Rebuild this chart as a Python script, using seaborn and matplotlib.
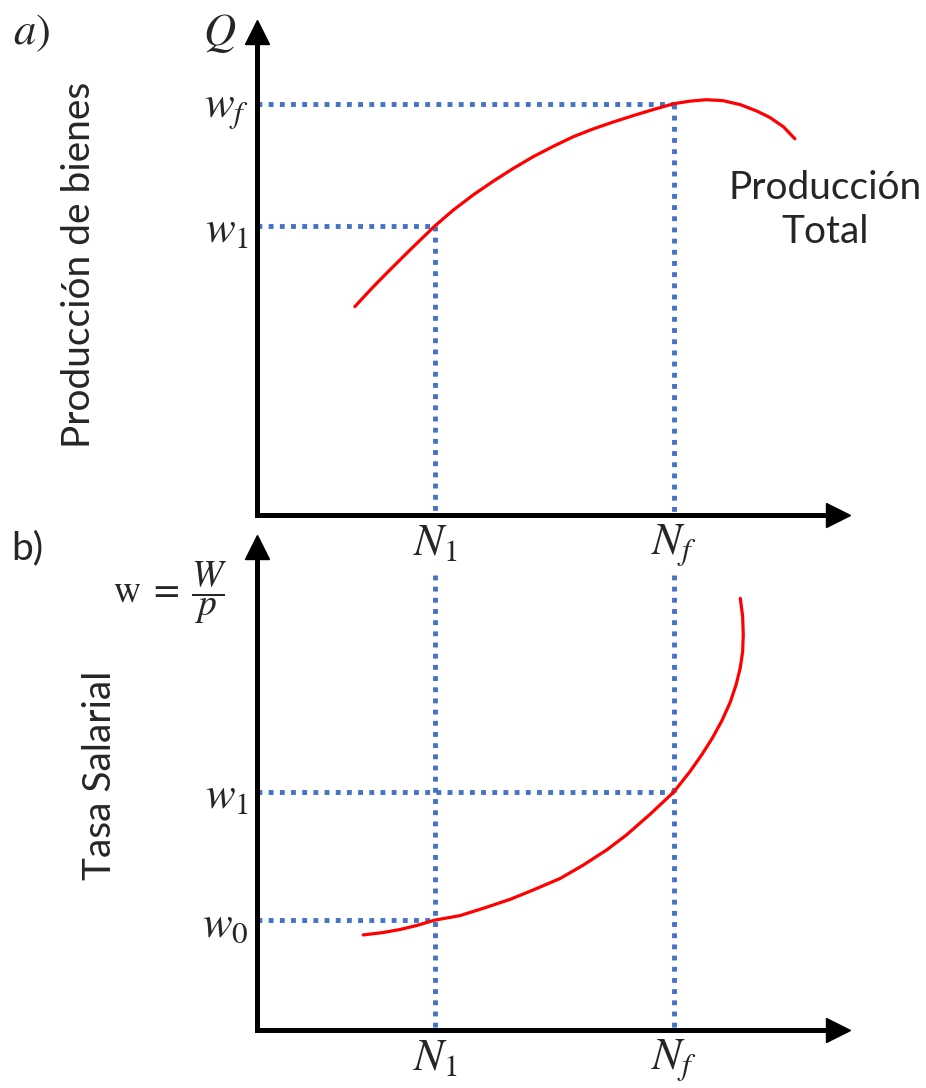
import numpy as np
import matplotlib
matplotlib.use('Agg')
import matplotlib.pyplot as plt
import seaborn as sns

# ── Data ──────────────────────────────────────────────────────
N1, Nf = 3.00, 7.03

# panel a) production function
q_wf, q_w1 = 8.31, 5.84
prod_n = [1.65, 1.96, 2.24, 2.61, 3.00, 3.31, 3.65, 3.98, 4.32, 4.66, 5.00,
          5.33, 5.67, 6.01, 6.35, 6.68, 7.03, 7.30, 7.58, 7.86, 8.15, 8.43,
          8.65, 8.88, 9.07]
prod_q = [4.21, 4.61, 4.95, 5.39, 5.84, 6.16, 6.47, 6.74, 7.00, 7.24, 7.45,
          7.64, 7.80, 7.94, 8.07, 8.19, 8.31, 8.36, 8.39, 8.37, 8.29, 8.16,
          8.03, 7.84, 7.60]

# panel b) wage curve
w_w1, w_w0 = 4.81, 2.22
wage_n = [1.79, 2.13, 2.41, 2.69, 3.00, 3.42, 3.82, 4.27, 4.66, 5.11, 5.50,
          5.90, 6.23, 6.63, 7.03, 7.30, 7.50, 7.68, 7.84, 7.98, 8.08, 8.15,
          8.19, 8.20, 8.19, 8.15]
wage_w = [1.92, 1.97, 2.03, 2.11, 2.22, 2.31, 2.46, 2.64, 2.83, 3.06, 3.33,
          3.64, 3.94, 4.36, 4.81, 5.22, 5.56, 5.90, 6.25, 6.62, 6.98, 7.32,
          7.65, 7.98, 8.35, 8.72]

top_yticks = [q_w1, q_wf]
top_ylabels = [r'$w_1$', r'$w_f$']
bot_yticks = [w_w0, w_w1]
bot_ylabels = [r'$w_0$', r'$w_1$']
xticks = [N1, Nf]
xlabels = [r'$N_1$', r'$N_f$']

# ── Style ─────────────────────────────────────────────────────
sns.set_style('white')
plt.rcParams['font.family'] = ['Lato', 'DejaVu Sans']
plt.rcParams['mathtext.fontset'] = 'stix'

RED = '#FF0000'
BLUE = '#4472C4'
DOT = dict(color=BLUE, lw=3.5, linestyle=(0, (1, 1.3)), dash_capstyle='butt')
MATH = 32
TXT = 28

fig = plt.figure(figsize=(9.26, 10.88), dpi=100)
ax_a = fig.add_axes([257/926, 1 - 515/1088, 593/926, 495/1088])
ax_b = fig.add_axes([257/926, 1 - 1030/1088, 593/926, 495/1088])
ax_b.set_facecolor('none')
ax_a.set_facecolor('none')


def style_axes(ax):
    ax.set_xlim(0, 10)
    ax.set_ylim(0, 10)
    for s in ['top', 'right']:
        ax.spines[s].set_visible(False)
    for s in ['left', 'bottom']:
        ax.spines[s].set_linewidth(3.6)
        ax.spines[s].set_color('black')
        ax.spines[s].set_capstyle('projecting')
    ax.spines['left'].set_bounds(0, 9.6)
    ax.spines['bottom'].set_bounds(0, 9.65)
    ax.plot(0, 9.75, '^', color='black', ms=17, clip_on=False)
    ax.plot(9.8, 0, '>', color='black', ms=17, clip_on=False)
    ax.tick_params(length=0, labelsize=MATH)
    ax.tick_params(axis='x', pad=5)
    ax.tick_params(axis='y', pad=6)
    ax.set_xticks(xticks, xlabels)


# ── a) Producción total ───────────────────────────────────────
style_axes(ax_a)
ax_a.plot([0, Nf], [q_wf, q_wf], **DOT)
ax_a.plot([Nf, Nf], [q_wf, 0], **DOT)
ax_a.plot([0, N1], [q_w1, q_w1], **DOT)
ax_a.plot([N1, N1], [q_w1, 0], **DOT)
sns.lineplot(x=prod_n, y=prod_q, sort=False, estimator=None, color=RED,
             lw=2.3, ax=ax_a)
ax_a.set_yticks(top_yticks, top_ylabels)
ax_a.text(-0.35, 9.72, r'$Q$', fontsize=MATH, ha='right', va='center')
ax_a.text(9.58, 6.16, 'Producción\nTotal', fontsize=TXT, ha='center',
          va='center', linespacing=1.3)
ax_a.set_ylabel('Producción de bienes', fontsize=TXT)
ax_a.yaxis.set_label_coords(-0.27, 0.505)

# ── b) Tasa salarial ──────────────────────────────────────────
style_axes(ax_b)
ax_b.plot([Nf, Nf], [9.2, 0], **DOT)
ax_b.plot([N1, N1], [9.2, 0], **DOT)
ax_b.plot([0, Nf], [w_w1, w_w1], **DOT)
ax_b.plot([0, N1], [w_w0, w_w0], **DOT)
sns.lineplot(x=wage_n, y=wage_w, sort=False, estimator=None, color=RED,
             lw=2.3, ax=ax_b)
ax_b.set_yticks(bot_yticks, bot_ylabels)
ax_b.text(-0.49, 8.83, r'$\mathrm{w}\;=\;\dfrac{W}{p}$', fontsize=27,
          ha='right', va='center')
ax_b.set_ylabel('Tasa Salarial', fontsize=TXT)
ax_b.yaxis.set_label_coords(-0.234, 0.515)

fig.text(32/926, 1 - 33/1088, r'$a)$', fontsize=MATH, ha='center', va='center')
fig.text(27/926, 1 - 548/1088, 'b)', fontsize=TXT, ha='center', va='center')

fig.savefig('out.png', dpi=100)
